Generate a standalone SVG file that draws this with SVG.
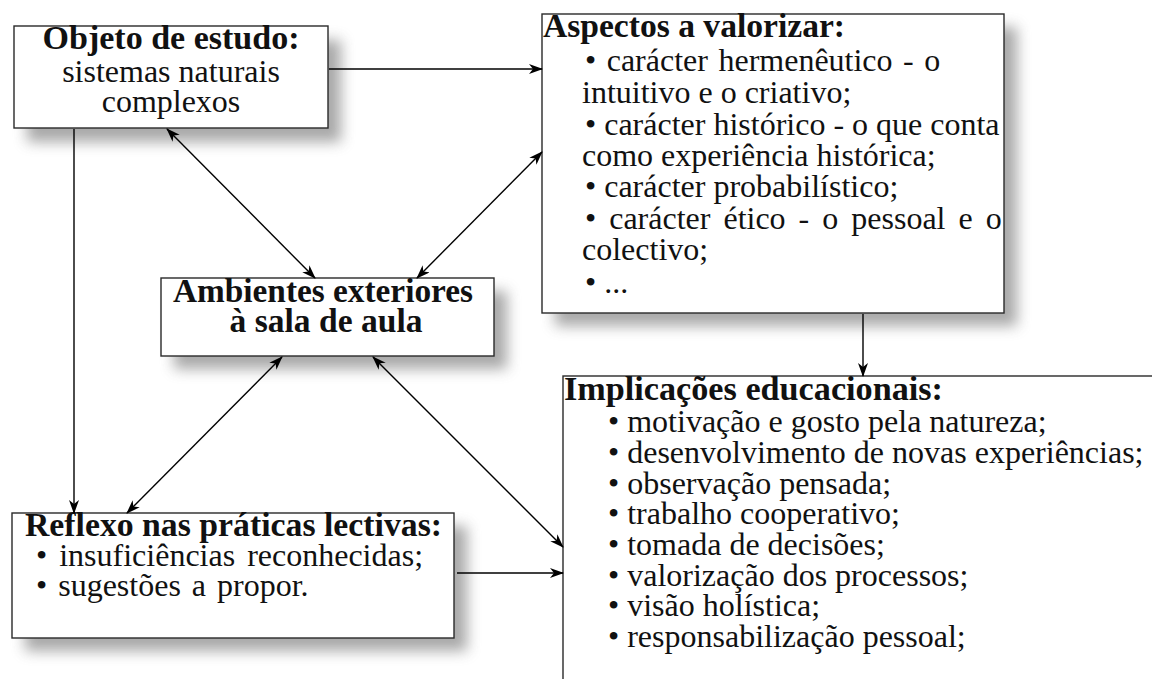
<svg xmlns="http://www.w3.org/2000/svg" width="1152" height="679" viewBox="0 0 1152 679">
<style>
.box{fill:#fff;stroke:#2a2a2a;stroke-width:1.4}
.sh{fill:#707070;opacity:0.6;filter:url(#blur)}
.t{font-family:"Liberation Serif","Times New Roman",serif;font-size:32px;fill:#111}
.b{font-family:"Liberation Serif","Times New Roman",serif;font-size:33px;font-weight:bold;fill:#111}
.c{text-anchor:middle}
.ln{stroke:#000;stroke-width:1.4;fill:none}
.one{marker-end:url(#ah)}
.two{marker-end:url(#ah);marker-start:url(#ah)}
</style>
<defs>
<filter id="blur" x="-20%" y="-20%" width="140%" height="140%"><feGaussianBlur stdDeviation="7"/></filter>
<marker id="ah" viewBox="0 0 14 10" refX="13" refY="5" markerWidth="14" markerHeight="10" markerUnits="userSpaceOnUse" orient="auto-start-reverse">
<path d="M0,0 L14,5 L0,10 L4,5 z" fill="#000"/>
</marker>
</defs>

<g id="objeto">
<rect class="sh" x="27" y="40" width="314" height="102"/>
<rect class="box" x="14" y="26" width="314" height="102"/>
<text class="b c" x="171" y="49" textLength="257" lengthAdjust="spacingAndGlyphs">Objeto de estudo:</text>
<text class="t c" x="171" y="82">sistemas naturais</text>
<text class="t c" x="171" y="112">complexos</text>
</g>

<g id="aspectos">
<rect class="sh" x="555" y="27" width="462" height="299"/>
<rect class="box" x="542" y="14" width="462" height="299"/>
<text class="b" x="543" y="37" textLength="302" lengthAdjust="spacingAndGlyphs">Aspectos a valorizar:</text>
<text class="t" x="585" y="71" style="word-spacing:2.5px">• carácter hermenêutico - o</text>
<text class="t" x="582" y="103">intuitivo e o criativo;</text>
<text class="t" x="585" y="135">• carácter histórico - o que conta</text>
<text class="t" x="582" y="166">como experiência histórica;</text>
<text class="t" x="585" y="197">• carácter probabilístico;</text>
<text class="t" x="585" y="229" style="word-spacing:5px">• carácter ético - o pessoal e o</text>
<text class="t" x="582" y="260">colectivo;</text>
<text class="t" x="585" y="293">• ...</text>
</g>

<g id="ambientes">
<rect class="sh" x="174" y="291" width="333" height="78"/>
<rect class="box" x="161" y="278" width="333" height="78"/>
<text class="b c" x="323" y="302" textLength="300" lengthAdjust="spacingAndGlyphs">Ambientes exteriores</text>
<text class="b c" x="326" y="332" textLength="193" lengthAdjust="spacingAndGlyphs">à sala de aula</text>
</g>

<g id="reflexo">
<rect class="sh" x="25" y="526" width="442" height="125"/>
<rect class="box" x="12" y="513" width="442" height="125"/>
<text class="b" x="25" y="536" textLength="417" lengthAdjust="spacingAndGlyphs">Reflexo nas práticas lectivas:</text>
<text class="t" x="36" y="566" style="word-spacing:4px">• insuficiências reconhecidas;</text>
<text class="t" x="36" y="596" style="word-spacing:3px">• sugestões a propor.</text>
</g>

<g id="implicacoes">
<rect class="sh" x="576" y="389" width="620" height="340"/>
<rect class="box" x="563" y="376" width="620" height="340"/>
<text class="b" x="564" y="400" textLength="379" lengthAdjust="spacingAndGlyphs">Implicações educacionais:</text>
<text class="t" x="608" y="432">• motivação e gosto pela natureza;</text>
<text class="t" x="608" y="463">• desenvolvimento de novas experiências;</text>
<text class="t" x="608" y="494">• observação pensada;</text>
<text class="t" x="608" y="524">• trabalho cooperativo;</text>
<text class="t" x="608" y="555">• tomada de decisões;</text>
<text class="t" x="608" y="586">• valorização dos processos;</text>
<text class="t" x="608" y="616">• visão holística;</text>
<text class="t" x="608" y="647">• responsabilização pessoal;</text>
</g>

<g id="connectors">
<line class="ln one" x1="329" y1="69" x2="542" y2="69"/>
<line class="ln two" x1="167" y1="129" x2="315" y2="278"/>
<line class="ln two" x1="542" y1="152" x2="417" y2="278"/>
<line class="ln one" x1="74" y1="129" x2="74" y2="513"/>
<line class="ln two" x1="282" y1="357" x2="127" y2="513"/>
<line class="ln two" x1="373" y1="357" x2="563" y2="547"/>
<line class="ln one" x1="457" y1="573" x2="563" y2="573"/>
<line class="ln one" x1="863" y1="314" x2="863" y2="376"/>
</g>
</svg>
